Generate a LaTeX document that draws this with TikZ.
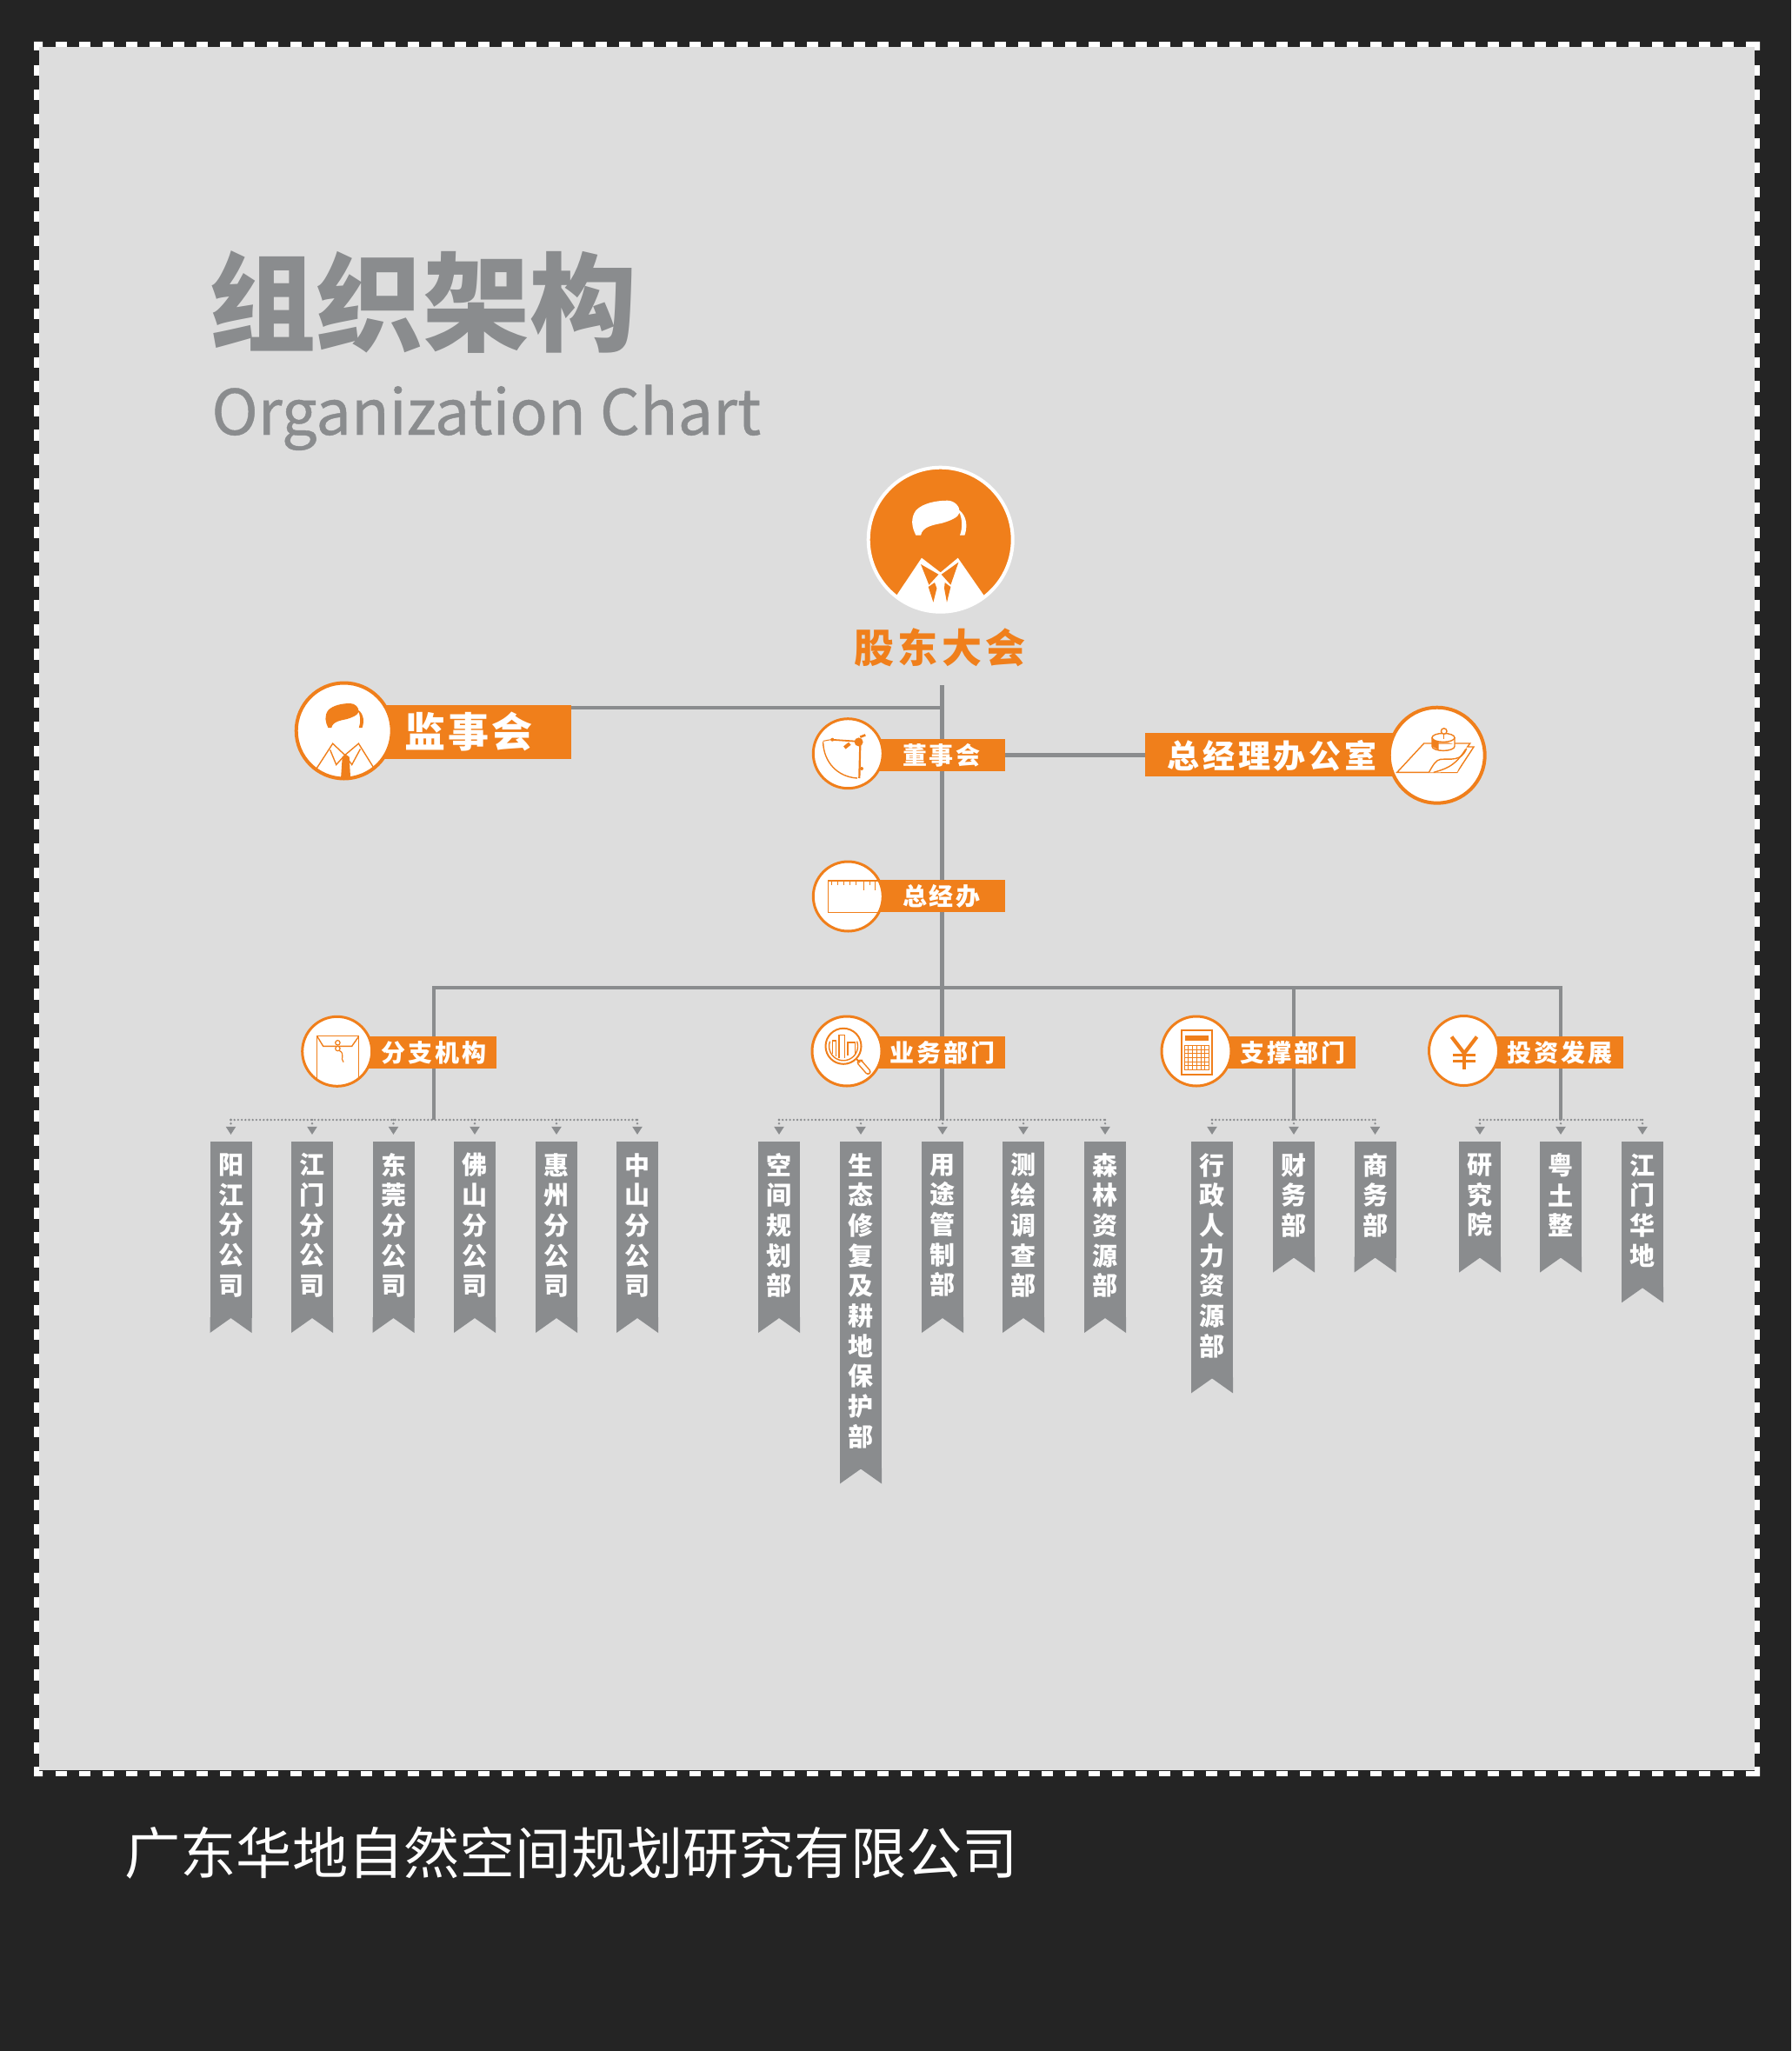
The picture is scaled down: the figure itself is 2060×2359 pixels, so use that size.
\documentclass[tikz,border=0pt]{standalone}
\usepackage{fontspec}
\setmainfont{Noto Sans CJK SC}
\usetikzlibrary{arrows.meta}
\definecolor{page}{HTML}{242424}
\definecolor{panel}{HTML}{DDDDDD}
\definecolor{brand}{HTML}{F07F1B}
\definecolor{steel}{HTML}{8A8C8E}
\pgfdeclarelayer{back}\pgfdeclarelayer{conn}
\pgfsetlayers{back,conn,main}
\newcommand{\tfont}[3]{\fontsize{#1}{#1}\selectfont\bfseries\addfontfeature{LetterSpace=#2}#3}
\tikzset{
  x=0.5pt,y=-0.5pt,
  edgedash/.style={draw=white,line width=3pt,dash pattern=on 6.25pt off 7.25pt},
  edgedashv/.style={draw=white,line width=3pt,dash pattern=on 6.25pt off 7.73pt},
  obar/.style={rectangle,fill=brand,inner sep=0pt,outer sep=0pt},
  ringS/.style={circle,draw=brand,fill=white,line width=1.5pt,minimum size=40pt,inner sep=0pt},
  ringM/.style={circle,draw=brand,fill=white,line width=2pt,minimum size=55pt,inner sep=0pt},
  ringB/.style={circle,draw=white,fill=brand,line width=2pt,minimum size=83pt,inner sep=0pt},
  barS/.style={text=white,inner sep=0pt,font=\tfont{14}{10}{}},
  barM/.style={text=white,inner sep=0pt,font=\tfont{18.5}{10}{}},
  barL/.style={text=white,inner sep=0pt,font=\tfont{23.5}{7}{}},
  ribbody/.style={rectangle,fill=steel,inner sep=0pt,outer sep=0pt,minimum width=24pt,anchor=north},
  ribtext/.style={text=white,inner sep=0pt,align=center,font=\fontsize{14.5}{17.35}\selectfont\bfseries},
  trunk/.style={draw=steel,line width=2.4pt,line join=miter},
  bus/.style={draw=steel,line width=1.3pt,line cap=round,dash pattern=on 0pt off 2.1pt},
  drop/.style={draw=steel,line width=1.3pt,line cap=round,dash pattern=on 0pt off 2.1pt,shorten >=4pt,
    -{Triangle[width=5.5pt,length=4.6pt,fill=steel]}},
  thin line/.style={draw=brand,line width=0.7pt,line join=miter},
  mid line/.style={draw=brand,line width=1pt,line join=miter},
}
\newcommand{\ribbon}[4]{%
  \pgfmathsetmacro{\ribB}{1313+46.5+34.7*#3}
  \pgfmathsetmacro{\ribH}{(29.5+34.7*#3)/2}
  \pgfmathsetmacro{\ribT}{1313+27+(#3-1)*17.35+\ribtextshift}
  \node[ribbody,minimum height=\ribH pt] (#1) at (#2,1313) {};
  \fill[steel] (#2-24,\ribB-18) -- (#2-24,\ribB) -- (#2,\ribB-17) -- (#2+24,\ribB) -- (#2+24,\ribB-18) -- cycle;
  \node[ribtext] (#1t) at (#2,\ribT) {#4};
}
\newcommand{\ribtextshift}{0}
\newcommand{\hairpaths}{%
  (-28.3,-5) .. controls (-33,-14) and (-35,-25) .. (-28,-34)
   .. controls (-20,-42) and (-5,-45) .. (8,-45)
   .. controls (16,-45) and (23,-38) .. (21.7,-31)
   .. controls (21,-26) and (12,-22) .. (1.7,-19)
   .. controls (-8,-17) and (-21,-15) .. (-22.7,-5) -- cycle
  (19.3,-35.7) .. controls (27,-31) and (33,-20) .. (27.7,-5) -- (22.3,-5)
   .. controls (26,-15) and (25,-27) .. (19.3,-35.7) -- cycle}
\begin{document}
\begin{tikzpicture}
\useasboundingbox (0,0) rectangle (2060,2359);
\begin{pgfonlayer}{back}
\fill[page] (0,0) rectangle (2060,2359);
\fill[panel] (45,54) rectangle (2018,2036);
\draw[edgedash] (64,51) -- (1994,51);
\draw[edgedash] (64,2040) -- (1994,2040);
\draw[edgedashv] (42,75) -- (42,2020);
\draw[edgedashv] (2021,75) -- (2021,2020);
\fill[white] (39,48) -- (49,48) -- (49,54) -- (45,54) -- (45,58) -- (39,58) -- cycle;
\fill[white] (2024,48) -- (2008,48) -- (2008,54) -- (2018,54) -- (2018,58) -- (2024,58) -- cycle;
\fill[white] (39,2043) -- (49,2043) -- (49,2037) -- (45,2037) -- (45,2032) -- (39,2032) -- cycle;
\fill[white] (2024,2043) -- (2008,2043) -- (2008,2037) -- (2018,2037) -- (2018,2032) -- (2024,2032) -- cycle;
\end{pgfonlayer}

% titles
\node[text=steel,inner sep=0pt,font=\fontsize{61.5}{61.5}\selectfont\bfseries] (title) at (486,348) {组织架构};
\node[text=steel,inner sep=0pt,anchor=base west,font=\fontsize{36}{36}\selectfont\addfontfeature{FakeBold=0.6}] (subtitle) at (243,500) {Organization Chart};
\node[text=white,inner sep=0pt,anchor=west,font=\fontsize{32.1}{32.1}\selectfont] (company) at (143,2131) {广东华地自然空间规划研究有限公司};

% bars
\node[obar,minimum width=130pt,minimum height=31pt] (jsbar) at (527,842) {};
\node[obar,minimum width=90.5pt,minimum height=18.5pt] (dsbar) at (1065.5,868.5) {};
\node[obar,minimum width=167.5pt,minimum height=25pt] (zjbar) at (1484.5,868) {};
\node[obar,minimum width=90.5pt,minimum height=18.5pt] (zbbar) at (1065.5,1030.5) {};
\node[obar,minimum width=91.5pt,minimum height=18.5pt] (fzbar) at (479.5,1210.5) {};
\node[obar,minimum width=91pt,minimum height=18.5pt] (ywbar) at (1065,1210.5) {};
\node[obar,minimum width=91.5pt,minimum height=18.5pt] (zcbar) at (1467.5,1210.5) {};
\node[obar,minimum width=91.5pt,minimum height=18.5pt] (tzbar) at (1775.5,1210.5) {};

% circles
\node[ringB] (gd) at (1081.7,620.7) {};
\node[ringM] (js) at (395.7,840.5) {};
\node[ringS] (ds) at (975.3,866.7) {};
\node[ringM] (zj) at (1652.7,868.7) {};
\node[ringS] (zb) at (975.3,1031) {};
\node[ringS] (fz) at (387.7,1209.3) {};
\node[ringS] (yw) at (974,1209) {};
\node[ringS] (zc) at (1376,1209) {};
\node[ringS] (tz) at (1683.5,1208.5) {};

% labels
\node[text=brand,inner sep=0pt,font=\tfont{23}{10}{}] (gdt) at (1081,745) {股东大会};
\node[barL] (jst) at (539,842) {监事会};
\node[barS] (dst) at (1083,869) {董事会};
\node[barM] (zjt) at (1463,869) {总经理办公室};
\node[barS] (zbt) at (1083,1031) {总经办};
\node[barS] (fzt) at (499,1211) {分支机构};
\node[barS] (ywt) at (1084,1211) {业务部门};
\node[barS] (zct) at (1487,1211) {支撑部门};
\node[barS] (tzt) at (1794,1211) {投资发展};

% icon: big person
\begin{scope}[shift={(1081.7,620.7)}]
  \clip (0,0) circle [radius=82];
  \fill[white] \hairpaths;
  \fill[white] (-50,63.3) -- (-21.7,21) -- (0,37.7) -- (20,21) -- (50,64.3) -- (50,90) -- (-50,90) -- cycle;
  \fill[brand] (-22.7,28.3) -- (-2.3,40) -- (-13.3,52) -- cycle;
  \fill[brand] (20.7,26) -- (1,40) -- (11.7,52) -- cycle;
  \fill[brand] (-6.7,49.3) -- (-14,54.3) -- (-8.3,72) -- (-4.3,56) -- cycle;
  \fill[brand] (5,49.3) -- (11.7,54.3) -- (7.3,72) -- (4.3,56) -- cycle;
\end{scope}
% icon: small person
\begin{scope}[shift={(395.7,840.5)}]
  \clip (0,0) circle [radius=54];
  \begin{scope}[shift={(1.5,0)},scale=0.7]
    \fill[brand] \hairpaths;
  \end{scope}
  \draw[thin line] (-32,44) -- (-13,14.7) -- (1,28) -- (16.7,14.7) -- (35,44);
  \draw[thin line] (-16,22) -- (-9,39) -- (1,28) -- (9,39) -- (18.7,21);
  \fill[brand] (-2,30) -- (1.5,27) -- (6,30) -- (7.7,60) -- (-4,60) -- cycle;
\end{scope}
% icon: compass
\begin{scope}[shift={(975.3,866.7)}]
  \draw[brand,line width=0.5pt] (-28.7,-14.3) -- (-20,-16);
  \draw[brand,line width=0.9pt] (-20,-16) -- (10,-14);
  \fill[brand] (-18,-16) circle [radius=2];
  \draw[brand,line width=1.1pt] (14,-10) -- (13,28.3);
  \fill[brand] (15.7,17.3) circle [radius=2];
  \draw[brand,line width=2pt] (-4,-6.7) -- (2,-11.5);
  \draw[brand,line width=1.3pt] (14,-19) -- (20,-21.3);
  \fill[brand] (12.3,-13.3) circle [radius=5];
  \draw[brand,line width=0.7pt] (-28.7,-13.3) .. controls (-28,10) and (-12,27) .. (10.7,28.3);
\end{scope}
% icon: ruler
\begin{scope}[shift={(975.3,1031)}]
  \clip (0,0) circle [radius=39];
  \draw[thin line] (-23,-18) rectangle (40,18.4);
  \foreach \tx in {-19,-12,-5,2,9,25}
    \draw[thin line] (\tx,-18) -- (\tx,-13);
  \draw[thin line] (18,-18) -- (18,-7);
  \draw[thin line] (31,-18) -- (31,-7);
\end{scope}
% icon: map
\begin{scope}[shift={(1652.7,868.7)}]
  \draw[thin line] (-46,19.7) -- (-15,-13.7) -- (38,-13.7) -- (35,-9.7) -- (42.3,-9.7) -- (23,19.7) -- cycle;
  \fill[white] (-9.3,19.7) .. controls (-4,10) and (0,5) .. (4,4.7) -- (34,-7) -- (23,19.7) -- cycle;
  \draw[thin line] (-9.3,19.7) .. controls (-4,10) and (-1,5.5) .. (4,4.7) .. controls (15,3.5) and (28,8) .. (34,-8);
  \draw[thin line] (-4,19.7) .. controls (8,16) and (20,14) .. (33,-7);
  \draw[thin line] (4,19.7) -- (23,19.7);
  \fill[white] (-5.7,-20.3) -- (20.3,-20.3) -- (20.3,-10.3) arc [start angle=0,end angle=180,x radius=13,y radius=-5] -- cycle;
  \draw[thin line] (-5.7,-20.3) -- (-5.7,-10.3) arc [start angle=180,end angle=0,x radius=13,y radius=5] -- (20.3,-20.3);
  \fill[brand] (-5.7,-18) -- (2,-16) -- (2,-6) -- (-5.7,-10.3) -- cycle;
  \filldraw[thin line,fill=white] (7.3,-20.3) ellipse [x radius=13,y radius=5];
  \draw[thin line] (8,-24) -- (8,-19);
  \filldraw[thin line,fill=white] (8,-27.7) circle [radius=3.3];
\end{scope}
% icon: envelope
\begin{scope}[shift={(387.7,1209.3)}]
  \clip (0,0) circle [radius=39];
  \draw[thin line] (-23.3,40) -- (-23.3,-17.7) -- (25,-17.7) -- (25,40);
  \draw[thin line] (-22.7,-17) -- (-16,-6) -- (17,-6) -- (24.7,-17);
  \filldraw[draw=brand,line width=0.6pt,fill=white] (0.7,-10) circle [radius=2.7];
  \filldraw[draw=brand,line width=0.6pt,fill=white] (0.7,-3.3) circle [radius=2.7];
  \draw[brand,line width=0.6pt] (2.5,-1) .. controls (10,3) and (3,8) .. (7.3,12.3);
\end{scope}
% icon: magnifier
\begin{scope}[shift={(974,1209)}]
  \draw[mid line] (-4,-5.7) circle [radius=20.5];
  \draw[thin line] (-4,-5.7) +(200:16.5) arc [start angle=200,end angle=-20,radius=16.5];
  \draw[thin line] (-16.7,3) -- (-16.7,-12) -- (-12.3,-12) -- (-12.3,6);
  \draw[thin line] (-9,8) -- (-9,-18.5) -- (-2.3,-18.5) -- (-2.3,8);
  \draw[thin line] (1,5) -- (1,-10) -- (9.3,-10) -- (9.3,3);
  \draw[brand,line width=3.4pt,line cap=round] (15,13) -- (24.3,23.7);
  \draw[white,line width=1.9pt,line cap=round] (15,13) -- (24.3,23.7);
  \draw[mid line] (11,9) -- (15,13);
  \fill[brand] (17,11) circle [radius=1.6];
\end{scope}
% icon: calculator
\begin{scope}[shift={(1376,1209)}]
  \draw[mid line] (-17.5,-24) rectangle (18.4,26.7);
  \fill[brand] (-13,-18.3) rectangle (14,-11.7);
  \foreach \gx in {0,...,6}
    \draw[brand,line width=0.5pt] (-13.8+4.75*\gx,-6.7) -- (-13.8+4.75*\gx,21.7);
  \foreach \gy in {0,...,6}
    \draw[brand,line width=0.5pt] (-13.8,-6.7+4.73*\gy) -- (14.7,-6.7+4.73*\gy);
\end{scope}
% icon: yen
\begin{scope}[shift={(1683.5,1208.5)}]
  \draw[brand,line width=2.1pt,line join=miter] (-14,-16) -- (0.5,3) -- (15,-16);
  \draw[brand,line width=2.1pt] (0.5,2) -- (0.5,21.7);
  \draw[brand,line width=1.8pt] (-12.5,5) -- (13.8,5);
  \draw[brand,line width=1.8pt] (-12.5,12) -- (13.8,12);
\end{scope}

% ribbons
\ribbon{a1}{265.5}{5}{阳\\江\\分\\公\\司}
\ribbon{a2}{359}{5}{江\\门\\分\\公\\司}
\ribbon{a3}{452.5}{5}{东\\莞\\分\\公\\司}
\ribbon{a4}{546}{5}{佛\\山\\分\\公\\司}
\ribbon{a5}{640}{5}{惠\\州\\分\\公\\司}
\ribbon{a6}{733}{5}{中\\山\\分\\公\\司}
\ribbon{b1}{896}{5}{空\\间\\规\\划\\部}
\ribbon{b2}{990}{10}{生\\态\\修\\复\\及\\耕\\地\\保\\护\\部}
\ribbon{b3}{1084}{5}{用\\途\\管\\制\\部}
\ribbon{b4}{1177}{5}{测\\绘\\调\\查\\部}
\ribbon{b5}{1271}{5}{森\\林\\资\\源\\部}
\ribbon{c1}{1394}{7}{行\\政\\人\\力\\资\\源\\部}
\ribbon{c2}{1488}{3}{财\\务\\部}
\ribbon{c3}{1581.5}{3}{商\\务\\部}
\ribbon{d1}{1702}{3}{研\\究\\院}
\ribbon{d2}{1795}{3}{粤\\土\\整}
\ribbon{d3}{1889}{4}{江\\门\\华\\地}

% connectors
\coordinate (gdfoot) at (1083.5,788);
\coordinate (jsjoin) at (1083.5,814);
\coordinate (busa) at (499,1288);
\coordinate (busb) at (1083.5,1288);
\coordinate (busc) at (1488,1288);
\coordinate (busd) at (1795,1288);
\coordinate (hleft) at (499,1136);
\coordinate (hmid) at (1083.5,1136);
\coordinate (hcen) at (1488,1136);
\coordinate (hright) at (1795,1136);
\begin{pgfonlayer}{conn}
\draw[trunk] (gdfoot) -- (busb);
\draw[trunk] (jsbar.east |- jsjoin) -- (jsjoin);
\draw[trunk] (dsbar.east) -- (zjbar.west |- dsbar.east);
\draw[trunk] (busa) -- (hleft) -- (hright) -- (busd);
\draw[trunk] (hcen) -- (busc);
\draw[bus] (a1.north |- busa) -- (a6.north |- busa);
\draw[bus] (b1.north |- busb) -- (b5.north |- busb);
\draw[bus] (c1.north |- busc) -- (c3.north |- busc);
\draw[bus] (d1.north |- busd) -- (d3.north |- busd);
\foreach \r/\b in {a1/busa,a2/busa,a3/busa,a4/busa,a5/busa,a6/busa,b1/busb,b2/busb,b3/busb,b4/busb,b5/busb,c1/busc,c2/busc,c3/busc,d1/busd,d2/busd,d3/busd}
  \draw[drop] (\r.north |- \b) -- (\r.north);
\end{pgfonlayer}
\end{tikzpicture}
\end{document}
